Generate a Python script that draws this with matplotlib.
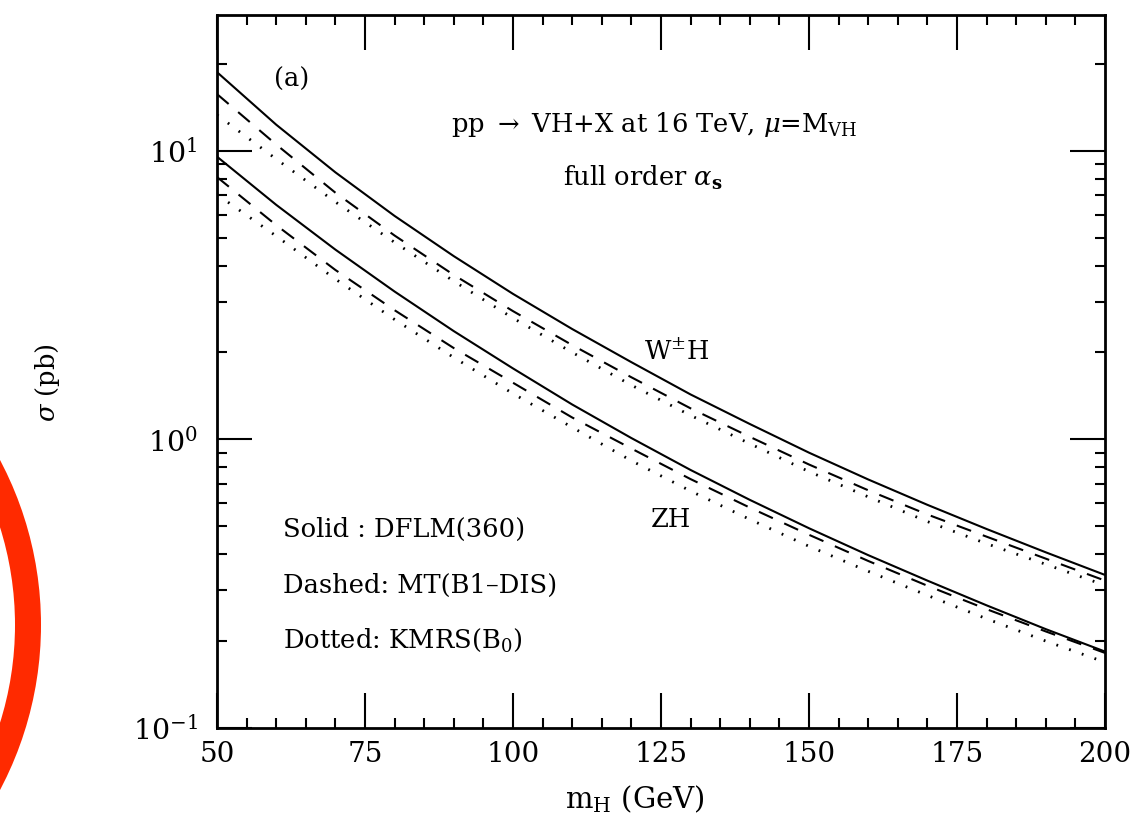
import matplotlib
matplotlib.use("Agg")
import matplotlib.pyplot as plt
from matplotlib.patches import Arc
from matplotlib.ticker import MultipleLocator, LogLocator, NullFormatter

# ---- data ----
m_H = [50, 60, 70, 80, 90, 100, 110, 120, 130, 140, 150, 160, 170, 180, 190, 200]

wh_solid = [18.7, 12.3, 8.41, 5.94, 4.31, 3.19, 2.41, 1.85, 1.43, 1.13, 0.899, 0.726, 0.593, 0.489, 0.406, 0.339]
wh_dashed = [15.7, 10.5, 7.15, 5.08, 3.71, 2.78, 2.12, 1.64, 1.28, 1.02, 0.818, 0.666, 0.549, 0.460, 0.386, 0.324]
wh_dotted = [13.3, 9.35, 6.64, 4.81, 3.53, 2.63, 2.00, 1.54, 1.21, 0.966, 0.773, 0.632, 0.519, 0.435, 0.369, 0.312]

zh_solid = [9.53, 6.49, 4.54, 3.25, 2.37, 1.76, 1.32, 1.01, 0.783, 0.617, 0.492, 0.397, 0.324, 0.266, 0.220, 0.184]
zh_dashed = [8.10, 5.52, 3.86, 2.80, 2.07, 1.57, 1.19, 0.929, 0.728, 0.580, 0.467, 0.379, 0.311, 0.258, 0.216, 0.182]
zh_dotted = [7.05, 5.06, 3.59, 2.60, 1.92, 1.44, 1.10, 0.843, 0.662, 0.528, 0.426, 0.349, 0.288, 0.239, 0.200, 0.169]

x_ticks = [50, 75, 100, 125, 150, 175, 200]

plt.rcParams['font.family'] = ['DejaVu Serif']
plt.rcParams['mathtext.fontset'] = 'dejavuserif'
plt.rcParams['lines.scale_dashes'] = False

fig = plt.figure(figsize=(11.44, 8.17), dpi=100)
ax = fig.add_axes([217/1144, 1-728/817, (1105-217)/1144, (728-15)/817])

dash = (0, (11, 9))
dot = (0, (1.3, 8.4))
for s, d, o in [(wh_solid, wh_dashed, wh_dotted), (zh_solid, zh_dashed, zh_dotted)]:
    ax.plot(m_H, s, color='black', lw=1.5, solid_capstyle='butt')
    ax.plot(m_H, d, color='black', lw=1.5, linestyle=dash)
    ax.plot(m_H, o, color='black', lw=2.0, linestyle=dot)

ax.set_yscale('log')
ax.set_xlim(50, 200)
ax.set_ylim(0.1, 29.5)
ax.set_xticks(x_ticks)
ax.xaxis.set_minor_locator(MultipleLocator(5))
ax.yaxis.set_major_locator(LogLocator(base=10, numticks=10))
ax.yaxis.set_minor_locator(LogLocator(base=10, subs=range(2, 10), numticks=20))
ax.yaxis.set_minor_formatter(NullFormatter())

ax.tick_params(which='both', direction='in', top=True, right=True, width=1.5)
ax.tick_params(which='major', length=25)
ax.tick_params(axis='x', which='major', labelsize=20, pad=9)
ax.tick_params(axis='y', which='major', labelsize=20.5, pad=14)
ax.tick_params(which='minor', length=7)
for sp in ax.spines.values():
    sp.set_linewidth(2)

ax.set_xlabel(r'm$_\mathregular{H}$ (GeV)', fontsize=21)
ax.xaxis.set_label_coords(0.471, -0.077)
ax.set_ylabel(r'$\sigma$ (pb)', fontsize=18.5)
ax.yaxis.set_label_coords(-0.175, 0.485)

fs = 18.5
ax.text(0.0845, 0.909, '(a)', transform=ax.transAxes, fontsize=fs, ha='center', va='center')
ax.text(0.493, 0.846, r'pp $\rightarrow$ VH+X at 16 TeV, $\mu$=M$_\mathregular{VH}$',
        transform=ax.transAxes, fontsize=fs, ha='center', va='center')
ax.text(0.479, 0.771, r'full order $\alpha_\mathbf{s}$', transform=ax.transAxes,
        fontsize=fs, ha='center', va='center')
ax.text(0.518, 0.527, r'W$^{\pm}$H', transform=ax.transAxes, fontsize=fs, ha='center', va='center')
ax.text(0.511, 0.292, 'ZH', transform=ax.transAxes, fontsize=fs, ha='center', va='center')
ax.text(0.074, 0.278, 'Solid : DFLM(360)', transform=ax.transAxes, fontsize=fs, ha='left', va='center')
ax.text(0.074, 0.200, 'Dashed: MT(B1\u2013DIS)', transform=ax.transAxes, fontsize=fs, ha='left', va='center')
ax.text(0.074, 0.123, r'Dotted: KMRS(B$_\mathregular{0}$)', transform=ax.transAxes, fontsize=fs, ha='left', va='center')

# red annotation arc on the left edge
cx, cy, r = -311.5, 625.0, 339.5
arc = Arc((cx/1144, 1-cy/817), 2*r/1144, 2*r/817, theta1=-45, theta2=45,
          transform=fig.transFigure, color='#ff2a00', lw=26*0.72)
fig.add_artist(arc)

fig.savefig('out.png', dpi=100)
